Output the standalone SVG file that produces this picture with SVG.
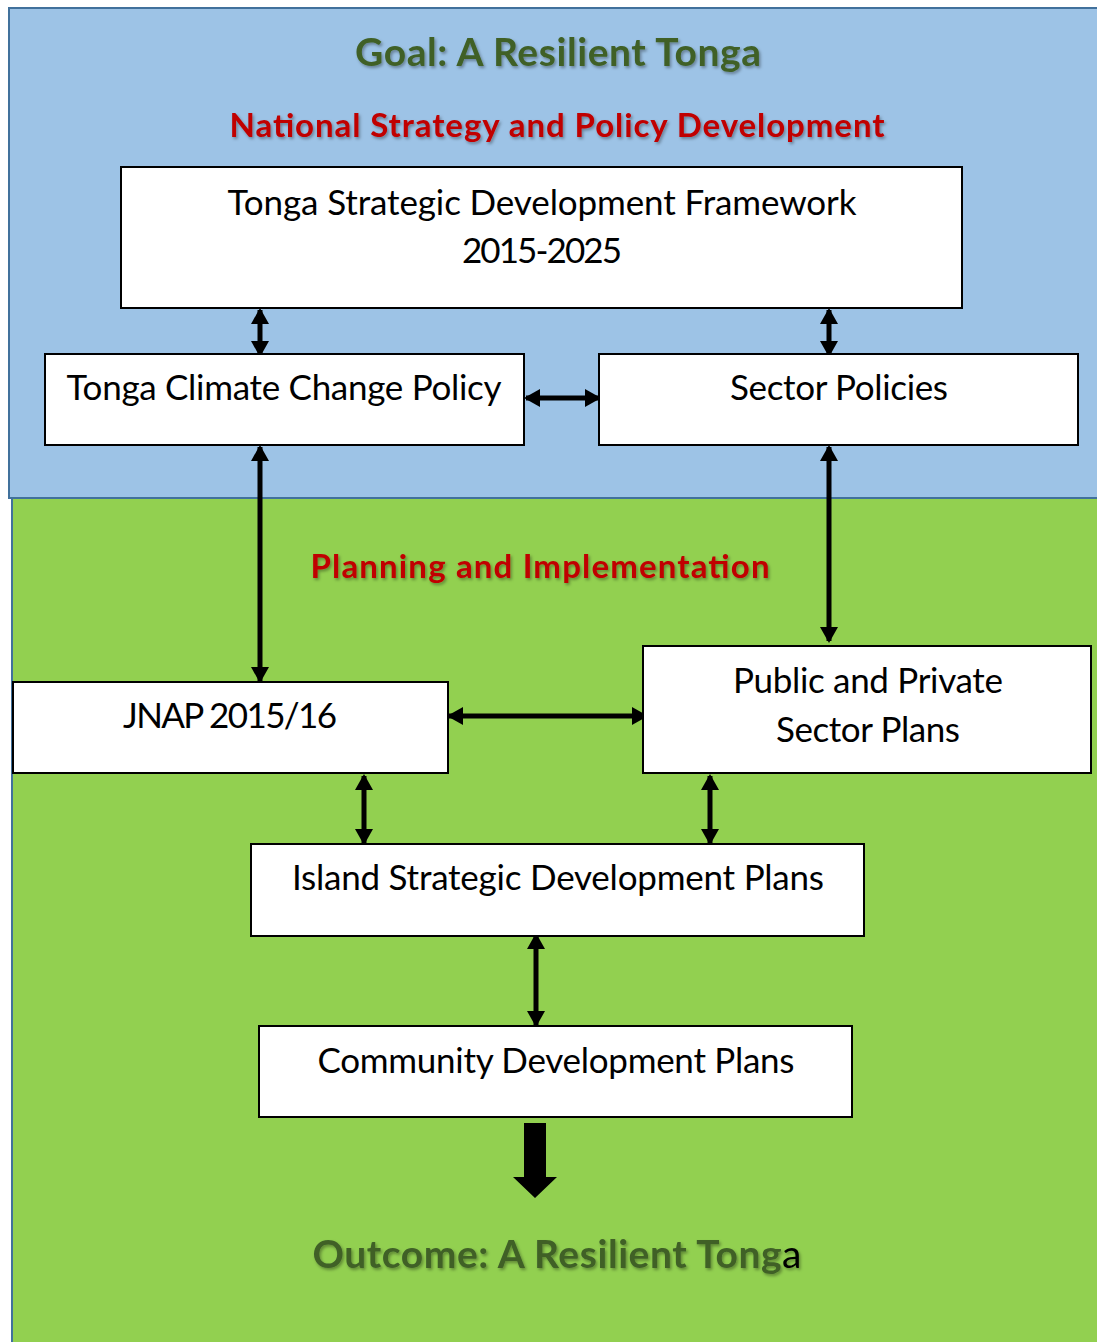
<svg xmlns="http://www.w3.org/2000/svg" width="1097" height="1342" viewBox="0 0 1097 1342">
<defs>
<style>
.box{fill:#ffffff;stroke:#000000;stroke-width:2}
.t{font-family:Lato,"Open Sans","Liberation Sans",sans-serif;font-size:35px;fill:#000;text-anchor:middle}
.goal{font-family:Lato,"Open Sans","Liberation Sans",sans-serif;font-size:39px;font-weight:bold;fill:#3f6128;text-anchor:middle}
.sec{font-family:Lato,"Open Sans","Liberation Sans",sans-serif;font-size:33px;font-weight:bold;fill:#c00000;text-anchor:middle}
.con{stroke:#000;stroke-width:5;fill:none;marker-start:url(#ah);marker-end:url(#ah)}
</style>
<marker id="ah" viewBox="0 0 16 18" refX="14" refY="9" markerWidth="16" markerHeight="18" markerUnits="userSpaceOnUse" orient="auto-start-reverse">
<path d="M0,0 L16,9 L0,18 Z" fill="#000"/>
</marker>
<filter id="sh" x="-5%" y="-20%" width="110%" height="150%">
<feDropShadow dx="1.5" dy="2" stdDeviation="1.5" flood-color="#000" flood-opacity="0.35"/>
</filter>
</defs>
<g id="panels">
<rect x="9" y="8" width="1095" height="490" fill="#9dc3e6" stroke="#41719c" stroke-width="2"/>
<rect x="12" y="498" width="1092" height="850" fill="#92d050" stroke="#41719c" stroke-width="2"/>
</g>
<g id="titles">
<text class="goal" x="558" y="66" textLength="406" filter="url(#sh)">Goal: A Resilient Tonga</text>
<text class="sec" x="557" y="137" textLength="655" filter="url(#sh)">National Strategy and Policy Development</text>
<text class="sec" x="540" y="578" textLength="459" filter="url(#sh)">Planning and Implementation</text>
<text class="goal" x="557" y="1268" filter="url(#sh)" textLength="489">Outcome: A Resilient Tong<tspan font-weight="normal" fill="#000">a</tspan></text>
</g>
<g id="connectors">
<line class="con" x1="260" y1="310" x2="260" y2="355"/>
<line class="con" x1="829" y1="310" x2="829" y2="355"/>
<line class="con" x1="526" y1="398" x2="599" y2="398"/>
<line class="con" x1="260" y1="447" x2="260" y2="681"/>
<line class="con" x1="829" y1="447" x2="829" y2="641"/>
<line class="con" x1="449" y1="716" x2="646" y2="716"/>
<line class="con" x1="364" y1="776" x2="364" y2="843"/>
<line class="con" x1="710" y1="776" x2="710" y2="843"/>
<line class="con" x1="536" y1="935" x2="536" y2="1025"/>
<path d="M524,1123 H546 V1177 H557 L535,1198 L513,1177 H524 Z" fill="#000"/>
</g>
<g id="tsdf">
<rect class="box" x="121" y="167" width="841" height="141"/>
<text class="t" x="542" y="215" textLength="629">Tonga Strategic Development Framework</text>
<text class="t" x="542" y="263" textLength="160">2015-2025</text>
</g>
<g id="tccp">
<rect class="box" x="45" y="354" width="479" height="91"/>
<text class="t" x="284" y="400" textLength="435">Tonga Climate Change Policy</text>
</g>
<g id="sector">
<rect class="box" x="599" y="354" width="479" height="91"/>
<text class="t" x="839" y="400" textLength="218">Sector Policies</text>
</g>
<g id="jnap">
<rect class="box" x="13" y="682" width="435" height="91"/>
<text class="t" x="230" y="728" textLength="214">JNAP 2015/16</text>
</g>
<g id="ppsp">
<rect class="box" x="643" y="646" width="448" height="127"/>
<text class="t" x="868" y="693" textLength="270">Public and Private</text>
<text class="t" x="868" y="742" textLength="184">Sector Plans</text>
</g>
<g id="isdp">
<rect class="box" x="251" y="844" width="613" height="92"/>
<text class="t" x="558" y="890" textLength="532">Island Strategic Development Plans</text>
</g>
<g id="cdp">
<rect class="box" x="259" y="1026" width="593" height="91"/>
<text class="t" x="556" y="1073" textLength="477">Community Development Plans</text>
</g>
</svg>
